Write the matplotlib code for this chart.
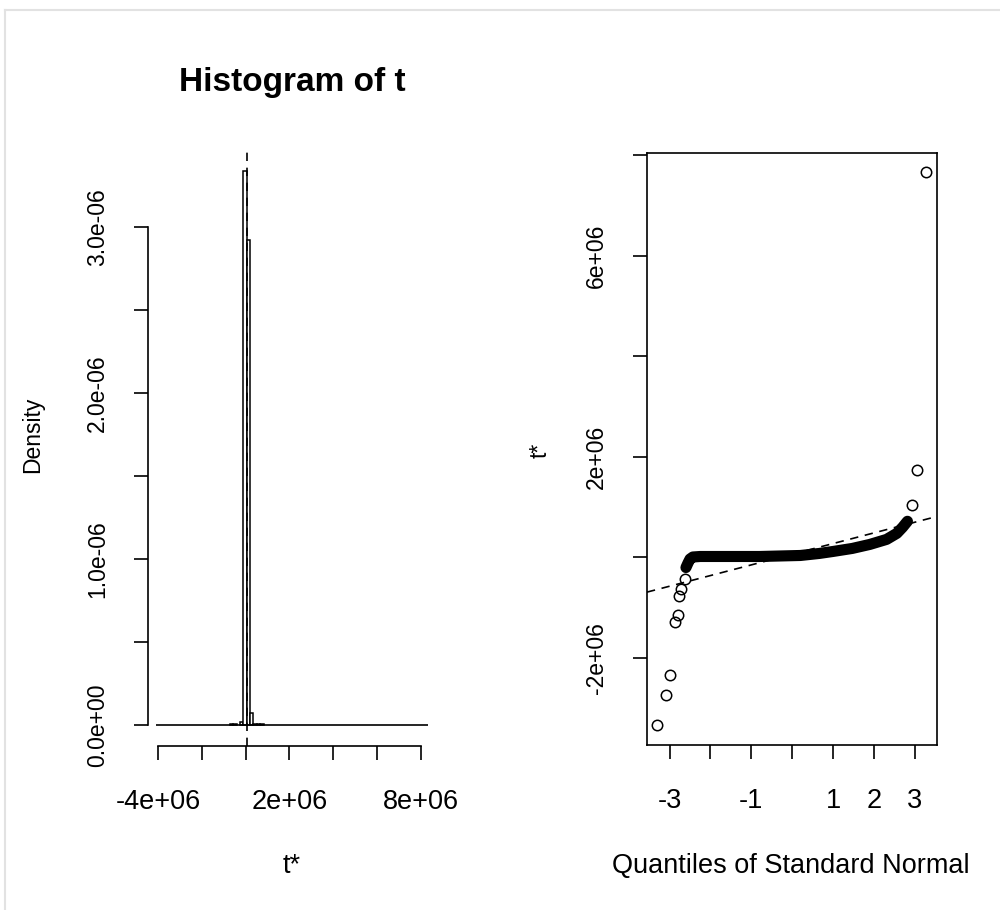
import matplotlib
matplotlib.use("Agg")
import matplotlib.pyplot as plt
from matplotlib.lines import Line2D

plt.rcParams["font.family"] = ["Liberation Sans", "DejaVu Sans"]

# ---- histogram of bootstrap replicates (densities in 1e-6 units)
t0 = 0.05e6
bin_width = 0.153e6
bin_index = [-5, -4, -2, -1, 0, 1, 2, 3, 4]
bin_density = [0.0065, 0.0065, 0.016, 3.34, 2.92, 0.072, 0.0065, 0.0065, 0.0065]
breaks_range = (-4.08e6, 8.31e6)

hist_xticks = [-4e6, -2e6, 0, 2e6, 4e6, 6e6, 8e6]
hist_xlabels = ["-4e+06", "", "", "2e+06", "", "", "8e+06"]
hist_yticks = [0, 0.5e-6, 1e-6, 1.5e-6, 2e-6, 2.5e-6, 3e-6]
hist_ylabels = ["0.0e+00", "", "1.0e-06", "", "2.0e-06", "", "3.0e-06"]

# ---- normal QQ plot (t* in units of 1e6)
out_q = [-3.31, -3.10, -2.98, -2.88, -2.80, -2.76, -2.71, -2.63, 2.94, 3.06, 3.27]
out_t = [-3.34, -2.74, -2.33, -1.29, -1.14, -0.76, -0.62, -0.42, 1.05, 1.74, 7.66]
band_q = [-2.60, -2.55, -2.50, -2.43, -2.25, -1.5, -0.8, 0.2, 0.66, 1.0, 1.47,
          1.9, 2.31, 2.56, 2.70, 2.82]
band_t = [-0.20, -0.11, -0.03, 0.01, 0.02, 0.02, 0.02, 0.04, 0.08, 0.12, 0.18,
          0.26, 0.36, 0.48, 0.60, 0.72]
t_mean = 0.065
t_sd = 0.212

qq_xticks = [-3, -2, -1, 0, 1, 2, 3]
qq_xlabels = ["-3", "", "-1", "", "1", "2", "3"]
qq_yticks = [-2, 0, 2, 4, 6, 8]
qq_ylabels = ["-2e+06", "", "2e+06", "", "6e+06", ""]

W, H = 1000, 910
fig = plt.figure(figsize=(W / 100, H / 100), dpi=100)

HSIZE = 19.5   # horizontal text
VSIZE = 16.5   # rotated text


def box(l, t, r, b):
    return [l / W, 1 - b / H, (r - l) / W, (b - t) / H]


# left panel
ax1 = fig.add_axes(box(148, 149, 436, 746))
ax1.set_xlim(-4.46e6, 8.69e6)
ax1.set_ylim(-0.1265e-6, 3.47e-6)
lefts = [t0 + k * bin_width for k in bin_index]
heights = [d * 1e-6 for d in bin_density]
ax1.bar(lefts, heights, width=bin_width, align="edge", color="white",
        edgecolor="black", linewidth=1.1)
ax1.hlines(0, breaks_range[0], breaks_range[1], color="black", lw=1.2)
ax1.axvline(t0, color="black", lw=1.2, ls=(0, (5, 4)))
for s in ["top", "right"]:
    ax1.spines[s].set_visible(False)
ax1.spines["left"].set_bounds(0, 3e-6)
ax1.spines["bottom"].set_bounds(-4e6, 8e6)
ax1.set_xticks(hist_xticks)
ax1.set_xticklabels(hist_xlabels)
ax1.set_yticks(hist_yticks)
ax1.set_yticklabels(hist_ylabels, rotation=90, va="center")
ax1.tick_params(axis="x", length=10, width=1.2, labelsize=HSIZE, pad=21)
ax1.tick_params(axis="y", length=10, width=1.2, labelsize=VSIZE, pad=18)

# right panel
ax2 = fig.add_axes(box(647, 153, 937, 745))
ax2.set_xlim(-3.553, 3.543)
ax2.set_ylim(-3.728, 8.042)
ax2.plot(band_q, band_t, color="black", lw=8, solid_capstyle="round",
         solid_joinstyle="round")
ax2.plot(out_q, out_t, "o", mfc="none", mec="black", ms=7.5, mew=1.1)
xs = [-3.553, 3.543]
ax2.plot(xs, [t_mean + t_sd * x for x in xs], color="black", lw=1.2,
         ls=(0, (5, 4)))
ax2.set_xticks(qq_xticks)
ax2.set_xticklabels(qq_xlabels)
ax2.set_yticks(qq_yticks)
ax2.set_yticklabels(qq_ylabels, rotation=90, va="center")
ax2.tick_params(axis="x", length=10, width=1.2, labelsize=HSIZE, pad=21)
ax2.tick_params(axis="y", length=10, width=1.2, labelsize=VSIZE, pad=18)
for s in ax2.spines.values():
    s.set_linewidth(1.2)
for s in ax1.spines.values():
    s.set_linewidth(1.2)

# titles and axis labels
fig.text(292 / W, 1 - 83 / H, "Histogram of t", ha="center", va="center",
         fontsize=24, fontweight="bold")
fig.text(292 / W, 1 - 866 / H, "t*", ha="center", va="center", fontsize=HSIZE)
fig.text(791 / W, 1 - 866 / H, "Quantiles of Standard Normal", ha="center",
         va="center", fontsize=HSIZE)
fig.text(33 / W, 1 - 435 / H, "Density", ha="center", va="center",
         fontsize=VSIZE, rotation=90)
fig.text(540 / W, 1 - 450 / H, "t*", ha="center", va="center", fontsize=VSIZE,
         rotation=90)

# light frame of the screenshot
fig.add_artist(Line2D([5 / W, 1], [1 - 10 / H, 1 - 10 / H], color="#e2e2e2", lw=1.5))
fig.add_artist(Line2D([5 / W, 5 / W], [0, 1 - 10 / H], color="#e2e2e2", lw=1.5))

fig.savefig("out.png", dpi=100)
